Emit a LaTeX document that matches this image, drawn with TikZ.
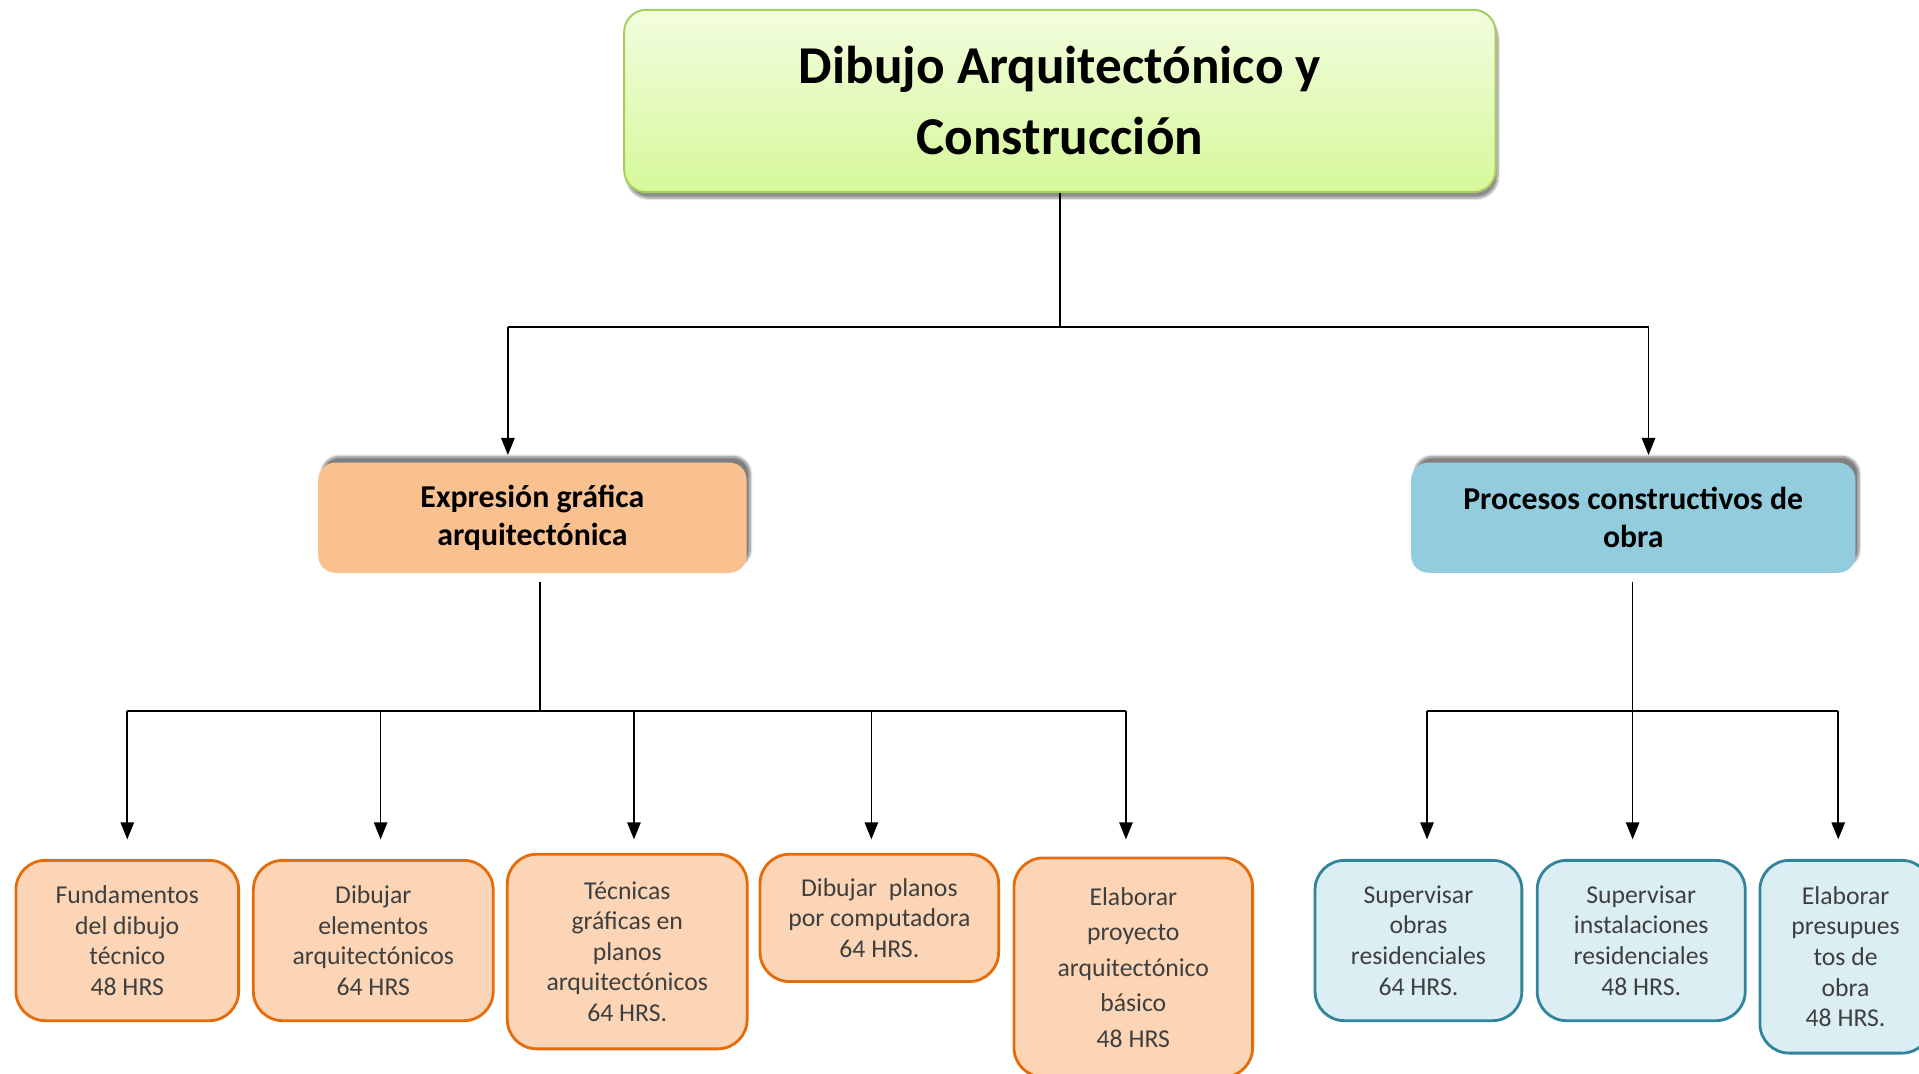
\documentclass[tikz,border=0pt]{standalone}
\usepackage{fontspec}
\setmainfont{Carlito}
\usetikzlibrary{arrows.meta,shadows.blur}
\definecolor{titletop}{HTML}{F2FDDE}
\definecolor{titlebot}{HTML}{D6F89A}
\definecolor{titleborder}{HTML}{A6CE5E}
\definecolor{exprfill}{HTML}{F9C190}
\definecolor{procfill}{HTML}{93CDDD}
\definecolor{orangeF}{HTML}{FBD5B5}
\definecolor{orangeB}{HTML}{E46C0A}
\definecolor{blueF}{HTML}{DAEEF3}
\definecolor{blueB}{HTML}{31849B}
\definecolor{txtgray}{HTML}{3F3F3F}
\begin{document}
\begin{tikzpicture}[x=1pt,y=-1pt,
  titlebox/.style={draw=titleborder, line width=1.6pt, rounded corners=18pt,
    top color=titletop, bottom color=titlebot, align=center, inner sep=0pt,
    font=\fontsize{43.5}{58}\selectfont\bfseries,
    blur shadow={shadow xshift=2pt, shadow yshift=-5pt, shadow blur steps=8, shadow opacity=45}},
  midbox/.style={rounded corners=14pt, align=center, inner sep=0pt,
    font=\fontsize{26}{31}\selectfont\bfseries,
    blur shadow={shadow xshift=3pt, shadow yshift=5pt, shadow blur steps=10, shadow opacity=50}},
  leaf/.style={rounded corners=24pt, line width=2.3pt, align=center, inner sep=0pt,
    text=txtgray, font=\fontsize{21}{25}\selectfont},
  oleaf/.style={leaf, draw=orangeB, fill=orangeF},
  bleaf/.style={leaf, draw=blueB, fill=blueF},
  conn/.style={line width=1.3pt, black},
  bus/.style={line width=1.8pt, black},
  arr/.style={conn, -{Triangle[length=14pt,width=11pt]}}
]
\useasboundingbox (0,0) rectangle (1568,877.5);
\clip (0,0) rectangle (1568,877.5);

% title
\node[titlebox, minimum width=712pt, minimum height=149pt] (title) at (866,82.5)
  {Dibujo Arquitectónico y\\Construcción};

% second level
\node[midbox, fill=exprfill, minimum width=350pt, minimum height=90pt] (expr) at (435,423)
  {Expresión gráfica\\arquitectónica};
\node[midbox, fill=procfill, minimum width=363pt, minimum height=90pt] (proc) at (1334.5,423)
  {Procesos constructivos de\\obra};

% leaves
\node[oleaf, minimum width=182pt, minimum height=131pt] (b1) at (104,768.5)
  {Fundamentos\\del dibujo\\técnico\\48 HRS};
\node[oleaf, minimum width=196pt, minimum height=131pt] (b2) at (305,768.5)
  {Dibujar\\elementos\\arquitectónicos\\64 HRS};
\node[oleaf, minimum width=196pt, minimum height=159pt] (b3) at (512.5,777.5)
  {Técnicas\\gráficas en\\planos\\arquitectónicos\\64 HRS.};
\node[oleaf, minimum width=195pt, minimum height=104pt] (b4) at (718.5,750)
  {Dibujar\ \ planos\\por computadora\\64 HRS.};
\node[oleaf, minimum width=195pt, minimum height=179pt, font=\fontsize{21}{29}\selectfont] (b5) at (926,790.5)
  {Elaborar\\proyecto\\arquitectónico\\básico\\48 HRS};
\node[bleaf, minimum width=169pt, minimum height=131pt] (b6) at (1159,768.5)
  {Supervisar\\obras\\residenciales\\64 HRS.};
\node[bleaf, minimum width=170pt, minimum height=131pt] (b7) at (1341,768.5)
  {Supervisar\\instalaciones\\residenciales\\48 HRS.};
\node[bleaf, minimum width=140pt, minimum height=157.5pt] (b8) at (1508,781.75)
  {Elaborar\\presupues\\tos de\\obra\\48 HRS.};

% connectors: top level
\coordinate (tj) at (866,267);
\coordinate (tl) at (415,267);
\coordinate (tr) at (1347,267);
\draw[conn] (title.south) -- (tj);
\draw[bus] (tl) -- (tr);
\draw[arr, shorten >=6pt] (tl) -- (tl |- expr.north);
\draw[arr, shorten >=6pt] (tr) -- (tr |- proc.north);

% connectors: left branch
\coordinate (ej) at (441,581);
\coordinate (e1) at (104,581);
\coordinate (e2) at (311,581);
\coordinate (e3) at (518,581);
\coordinate (e4) at (712,581);
\coordinate (e5) at (920,581);
\draw[conn, shorten <=7pt] (ej |- expr.south) -- (ej);
\draw[bus] (e1) -- (e5);
\draw[arr, shorten >=16pt] (e1) -- (e1 |- b1.north);
\draw[arr, shorten >=16pt] (e2) -- (e2 |- b2.north);
\draw[arr, shorten >=11pt] (e3) -- (e3 |- b3.north);
\draw[arr, shorten >=11pt] (e4) -- (e4 |- b4.north);
\draw[arr, shorten >=14pt] (e5) -- (e5 |- b5.north);

% connectors: right branch
\coordinate (p1) at (1166,581);
\coordinate (p2) at (1334,581);
\coordinate (p3) at (1502,581);
\draw[bus] (p1) -- (p3);
\draw[arr, shorten <=7pt, shorten >=16pt] (p2 |- proc.south) -- (p2 |- b7.north);
\draw[arr, shorten >=16pt] (p1) -- (p1 |- b6.north);
\draw[arr, shorten >=16pt] (p3) -- (p3 |- b8.north);
\end{tikzpicture}
\end{document}
